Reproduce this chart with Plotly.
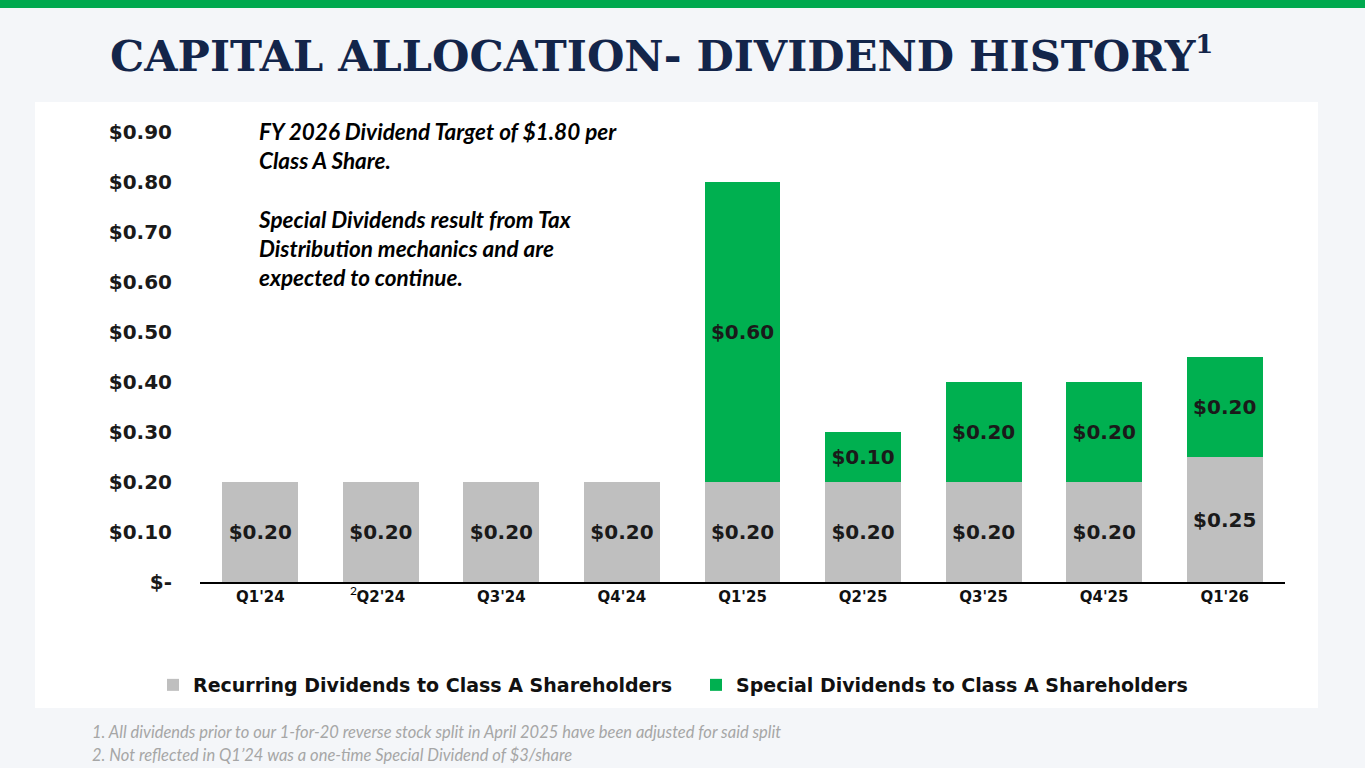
import plotly.graph_objects as go

quarters = ["Q1'24", "Q2'24", "Q3'24", "Q4'24", "Q1'25", "Q2'25", "Q3'25", "Q4'25", "Q1'26"]
recurring = [0.20, 0.20, 0.20, 0.20, 0.20, 0.20, 0.20, 0.20, 0.25]
special = [None, None, None, None, 0.60, 0.10, 0.20, 0.20, 0.20]
y_ticks = [0, 0.1, 0.2, 0.3, 0.4, 0.5, 0.6, 0.7, 0.8, 0.9]
y_tick_labels = ["$-", "$0.10", "$0.20", "$0.30", "$0.40", "$0.50", "$0.60", "$0.70", "$0.80", "$0.90"]

GRAY = "#BFBFBF"
GREEN = "#00B050"
NAVY = "#13254A"
W, H = 1365, 768
L, R, T, B = 200, 80, 132, 186


def fmt(v):
    return "" if v is None else f"<b>${v:.2f}</b>"


def pxx(p):
    return (p - L) / (W - L - R)


def pxy(p):
    return (H - B - p) / (H - T - B)


fig = go.Figure()
fig.add_trace(go.Bar(
    x=quarters, y=recurring, name="<b>Recurring Dividends to Class A Shareholders</b>",
    marker=dict(color=GRAY, line=dict(width=0)),
    text=[fmt(v) for v in recurring], textposition="inside", insidetextanchor="middle",
    textangle=0, constraintext="none",
    textfont=dict(family="DejaVu Sans", size=20, color="#1A1A1A"),
))
fig.add_trace(go.Bar(
    x=quarters, y=special, name="<b>Special Dividends to Class A Shareholders</b>",
    marker=dict(color=GREEN, line=dict(width=0)),
    text=[fmt(v) for v in special], textposition="inside", insidetextanchor="middle",
    textangle=0, constraintext="none",
    textfont=dict(family="DejaVu Sans", size=20, color="#1A1A1A"),
))

shapes = [
    dict(type="rect", xref="paper", yref="paper", layer="below",
         x0=pxx(0), x1=pxx(W), y0=pxy(8), y1=pxy(0), fillcolor="#00A94F", line=dict(width=0)),
    dict(type="rect", xref="paper", yref="paper", layer="below",
         x0=pxx(35), x1=pxx(1318), y0=pxy(708), y1=pxy(102), fillcolor="#FFFFFF", line=dict(width=0)),
]

annotations = [
    dict(xref="paper", yref="paper", x=pxx(108), y=pxy(55), xanchor="left", yanchor="middle",
         text="<b>CAPITAL ALLOCATION- DIVIDEND HISTORY<sup><span style='font-size:26px'>1</span></sup></b>",
         showarrow=False,
         font=dict(family="DejaVu Serif", size=43, color=NAVY)),
    dict(xref="paper", yref="paper", x=pxx(256), y=pxy(116), xanchor="left", yanchor="top",
         align="left", showarrow=False,
         text="<b><i>FY 2026 Dividend Target of $1.80 per<br>Class A Share.<br><br>Special Dividends result from Tax<br>Distribution mechanics and are<br>expected to continue.</i></b>",
         font=dict(family="Lato", size=22.5, color="#000000")),
    dict(xref="paper", yref="paper", x=pxx(353), y=pxy(590), xanchor="center", yanchor="middle",
         text="2", showarrow=False, font=dict(family="Lato", size=12, color="#000000")),
    dict(xref="paper", yref="paper", x=pxx(90), y=pxy(732), xanchor="left", yanchor="middle",
         text="<i>1. All dividends prior to our 1-for-20 reverse stock split in April 2025 have been adjusted for said split</i>",
         showarrow=False, font=dict(family="Lato", size=16.5, color="#A6A6A6")),
    dict(xref="paper", yref="paper", x=pxx(90), y=pxy(755), xanchor="left", yanchor="middle",
         text="<i>2. Not reflected in Q1’24 was a one-time Special Dividend of $3/share</i>",
         showarrow=False, font=dict(family="Lato", size=16.5, color="#A6A6A6")),
]

fig.update_layout(
    width=W, height=H, barmode="stack", bargap=0.37,
    paper_bgcolor="#F4F6F9", plot_bgcolor="#FFFFFF",
    margin=dict(l=L, r=R, t=T, b=B, pad=0),
    shapes=shapes, annotations=annotations,
    showlegend=True,
    legend=dict(orientation="h", xanchor="center", x=pxx(696), yanchor="middle", y=pxy(685),
                font=dict(family="DejaVu Sans", size=19, color="#111111"),
                entrywidth=498, entrywidthmode="pixels",
                bgcolor="rgba(0,0,0,0)", traceorder="normal"),
    xaxis=dict(showgrid=False, showline=True, linecolor="#000000", linewidth=1.5,
               ticks="", tickfont=dict(family="DejaVu Sans", size=15, color="#111111"),
               tickprefix="<b>", ticksuffix="</b>", fixedrange=True),
    yaxis=dict(range=[0, 0.9], tickvals=y_ticks, ticktext=["<b>" + t + "</b>" for t in y_tick_labels],
               showgrid=False, showline=False, zeroline=False, ticks="", ticklabelstandoff=27,
               tickfont=dict(family="DejaVu Sans", size=20, color="#1A1A1A"), fixedrange=True),
)

fig.write_html("out.html", config={"displayModeBar": False},
               post_script="document.body.style.margin='0';document.body.style.overflow='hidden';")
